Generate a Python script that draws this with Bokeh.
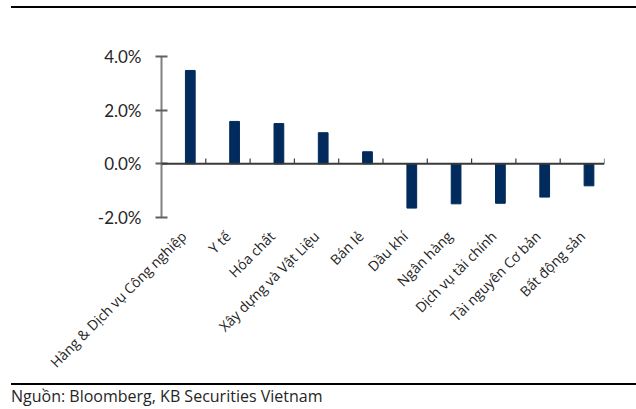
import math
from bokeh.plotting import figure
from bokeh.models import Range1d, FixedTicker, PrintfTickFormatter, Div, ColumnDataSource, Span
from bokeh.layouts import column
from bokeh.embed import file_html
from bokeh.resources import INLINE

categories = ["Hàng & Dịch vụ Công nghiệp", "Y tế", "Hóa chất", "Xây dựng và Vật Liệu", "Bán lẻ",
              "Dầu khí", "Ngân hàng", "Dịch vụ tài chính", "Tài nguyên Cơ bản", "Bất động sản"]
values = [3.48, 1.58, 1.50, 1.16, 0.45, -1.65, -1.49, -1.47, -1.24, -0.82]
y_ticks = [-2, 0, 2, 4]
source_text = "Nguồn: Bloomberg, KB Securities Vietnam"

BAR_COLOR = "#002b5c"
FONT = "Lato"

n = len(categories)
bar_x = [i + 0.65 for i in range(n)]
label_x = [i + 0.5 for i in range(n)]
bounds = [i + 1 for i in range(n)]

src = ColumnDataSource(dict(x=bar_x, top=values))

p = figure(output_backend="svg", toolbar_location=None,
           width=636, height=375,
           x_range=Range1d(0, n), y_range=Range1d(-2, 4),
           min_border_left=161, min_border_right=32,
           min_border_top=48, min_border_bottom=166)
p.outline_line_color = None
p.xgrid.visible = False
p.ygrid.visible = False
p.background_fill_color = "white"
p.border_fill_color = "white"

p.vbar(x="x", top="top", bottom=0, width=0.22, source=src, color=BAR_COLOR)

# zero line and category boundary tick marks
p.add_layout(Span(location=0, dimension="width", line_color="#3a3a3a", line_width=2))
p.segment(x0=bounds, x1=bounds, y0=[0] * n, y1=[0.2] * n, line_color="#3a3a3a", line_width=1.2)

# y axis
ya = p.yaxis[0]
ya.ticker = FixedTicker(ticks=y_ticks)
ya.formatter = PrintfTickFormatter(format="%.1f%%")
ya.axis_line_color = "#808080"
ya.axis_line_width = 2
ya.major_tick_line_color = "#606060"
ya.major_tick_line_width = 2
ya.major_tick_in = 6
ya.major_tick_out = 6
ya.minor_tick_line_color = None
ya.major_label_standoff = 14
ya.major_label_text_font = FONT
ya.major_label_text_font_size = "17px"
ya.major_label_text_color = "#262626"

# x axis (labels only)
xa = p.xaxis[0]
xa.ticker = FixedTicker(ticks=label_x)
xa.major_label_overrides = {x: c for x, c in zip(label_x, categories)}
xa.axis_line_color = None
xa.major_tick_line_color = None
xa.minor_tick_line_color = None
xa.major_label_orientation = math.pi / 4
xa.major_label_standoff = 10
xa.major_label_text_font = "Open Sans"
xa.major_label_text_font_size = "14px"
xa.major_label_text_color = "#262626"

top_div = Div(text="", width=625, height=8, margin=(0, 0, 0, 11),
              styles={"border-bottom": "2px solid #000"})
bottom_div = Div(text=('<div style="margin-left:11px;width:625px;border-top:2px solid #000;padding-top:1px;'
                       'font-family:\'Open Sans\';font-size:16px;line-height:20px;color:#262626">' + source_text + '</div>'),
                 width=636, height=24, margin=0)

layout = column(top_div, p, bottom_div, spacing=0)

open("out.html", "w").write(file_html(layout, INLINE))
